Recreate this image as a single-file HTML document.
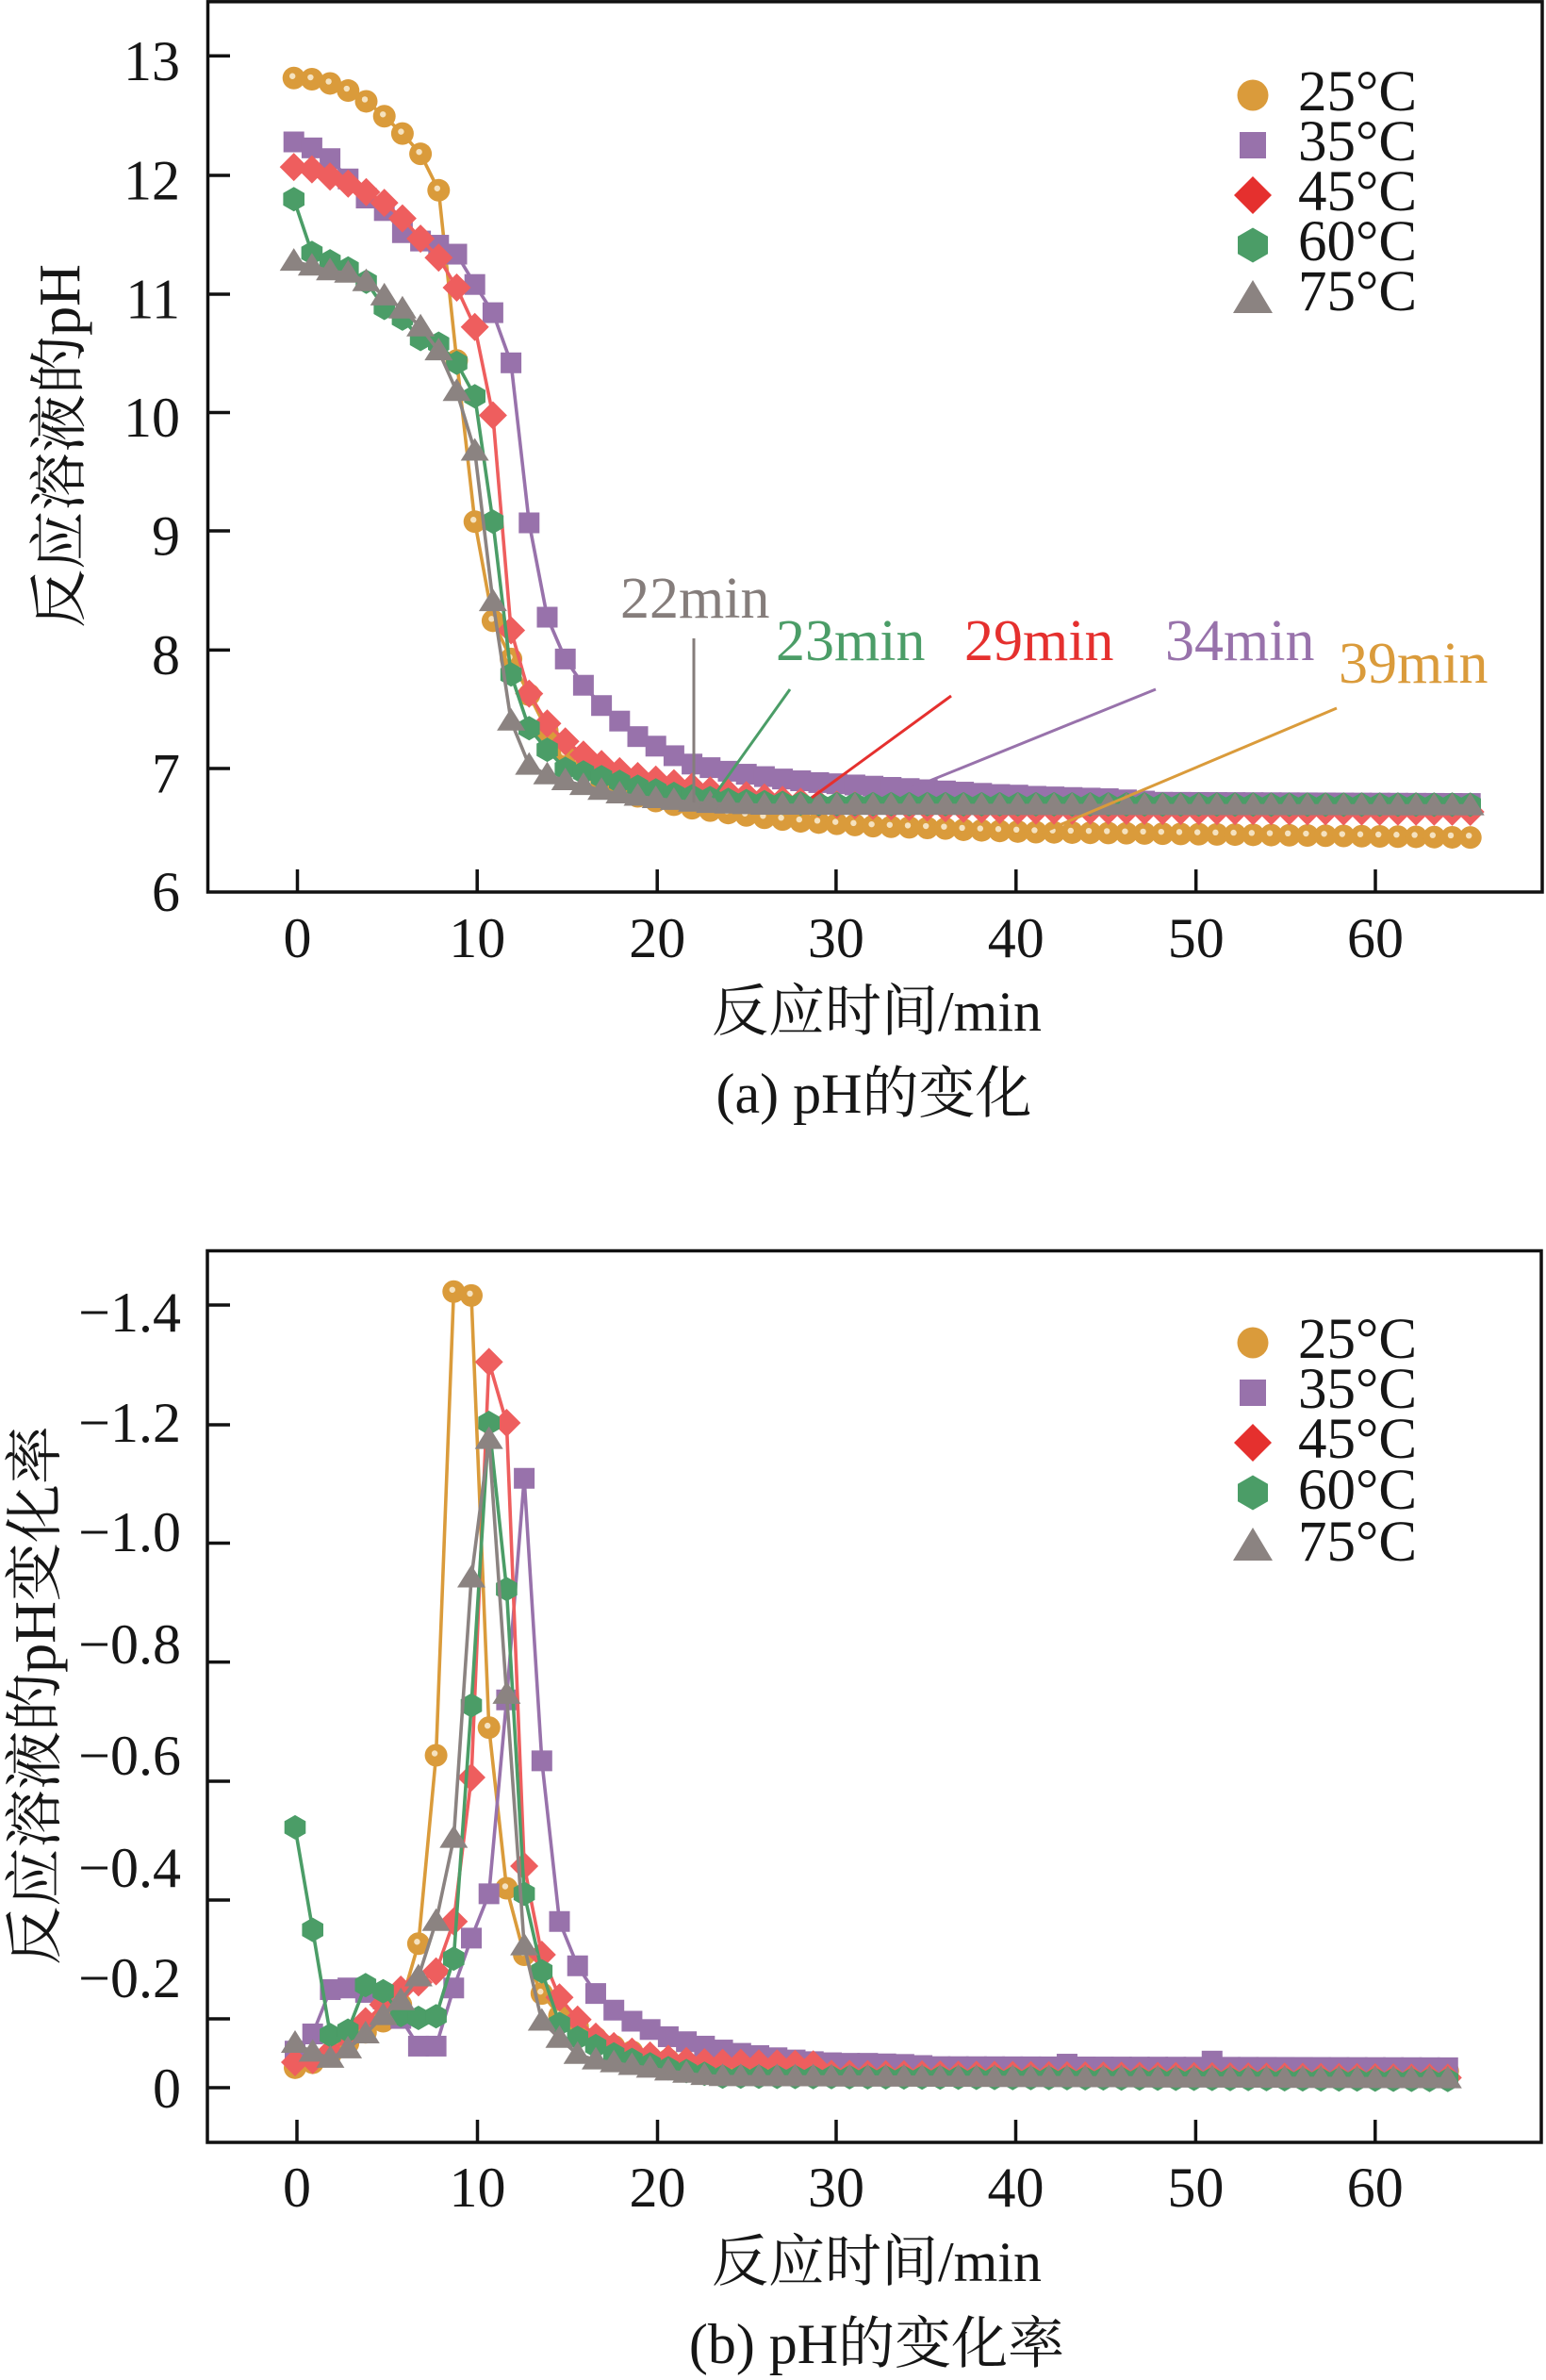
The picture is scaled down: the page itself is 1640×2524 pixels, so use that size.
<!DOCTYPE html>
<html><head><meta charset="utf-8">
<style>
html,body{margin:0;padding:0;background:#fff;}
svg{display:block;}
text{font-family:"Liberation Serif","Noto Serif CJK SC",serif;fill:#161616;}
</style></head>
<body>
<svg id="s" width="1640" height="2524" viewBox="0 0 1640 2524" xmlns="http://www.w3.org/2000/svg">
<rect width="1640" height="2524" fill="#fff"/>
<g id="plotA"></g>
<g id="plotB"></g>

<!-- ===== Chart (a) frame & ticks ===== -->
<g stroke="#111" stroke-width="3.5" fill="none">
<rect x="220.5" y="1.8" width="1415.5" height="944.2"/>
<path d="M220.5 59.3H244M220.5 186H244M220.5 312H244M220.5 437.5H244M220.5 563H244M220.5 689.4H244M220.5 815H244"/>
<path d="M315.5 946V922M506.2 946V922M697.2 946V922M886.9 946V922M1077.8 946V922M1268.7 946V922M1459 946V922"/>
</g>
<g font-size="60" text-anchor="end">
<text x="191" y="85">13</text>
<text x="191" y="211.5">12</text>
<text x="191" y="337.5">11</text>
<text x="191" y="463">10</text>
<text x="191" y="588.5">9</text>
<text x="191" y="715">8</text>
<text x="191" y="840.5">7</text>
<text x="191" y="966">6</text>
</g>
<g font-size="60" text-anchor="middle">
<text x="315.5" y="1015">0</text>
<text x="506.2" y="1015">10</text>
<text x="697.2" y="1015">20</text>
<text x="886.9" y="1015">30</text>
<text x="1077.8" y="1015">40</text>
<text x="1268.7" y="1015">50</text>
<text x="1459" y="1015">60</text>
<text x="930" y="1093">反应时间/min</text>
<text x="927" y="1180">(a) pH的变化</text>
</g>
<text font-size="62" text-anchor="middle" transform="translate(84,473) rotate(-90)">反应溶液的pH</text>

<!-- annotations -->
<g stroke-width="3">
<line x1="736" y1="677" x2="736" y2="851" stroke="#857d7b"/>
<line x1="838" y1="731" x2="756" y2="846" stroke="#4B9D67"/>
<line x1="1009" y1="738" x2="861" y2="846" stroke="#E5302E"/>
<line x1="1226" y1="731" x2="964" y2="837" stroke="#9872AB"/>
<line x1="1418" y1="751" x2="1105" y2="883" stroke="#DA9B3B"/>
</g>
<g font-size="62">
<text x="658" y="655" style="fill:#857d7b">22min</text>
<text x="823" y="700" style="fill:#4B9D67">23min</text>
<text x="1023" y="700" style="fill:#E5302E">29min</text>
<text x="1236" y="700" style="fill:#9872AB">34min</text>
<text x="1420" y="724" style="fill:#DA9B3B">39min</text>
</g>

<!-- legend (a) text -->
<g font-size="61">
<text x="1377" y="117">25°C</text>
<text x="1377" y="170">35°C</text>
<text x="1377" y="223">45°C</text>
<text x="1377" y="276">60°C</text>
<text x="1377" y="329">75°C</text>
</g>
<g id="legA"></g>

<!-- ===== Chart (b) frame & ticks ===== -->
<g stroke="#111" stroke-width="3.5" fill="none">
<rect x="220" y="1326.5" width="1415" height="945.5"/>
<path d="M220 1384H244M220 1511H244M220 1636.5H244M220 1762.6H244M220 1889H244M220 2015H244M220 2141H244M220 2214H244"/>
<path d="M315 2272V2248M506.5 2272V2248M697.5 2272V2248M887 2272V2248M1077.5 2272V2248M1268.4 2272V2248M1458.8 2272V2248"/>
</g>
<g font-size="60" text-anchor="end">
<text x="192" y="1412">−1.4</text>
<text x="192" y="1529">−1.2</text>
<text x="192" y="1645">−1.0</text>
<text x="192" y="1764">−0.8</text>
<text x="192" y="1882">−0.6</text>
<text x="192" y="2001">−0.4</text>
<text x="192" y="2118">−0.2</text>
<text x="192" y="2235">0</text>
</g>
<g font-size="60" text-anchor="middle">
<text x="315" y="2340">0</text>
<text x="506.5" y="2340">10</text>
<text x="697.5" y="2340">20</text>
<text x="887" y="2340">30</text>
<text x="1077.5" y="2340">40</text>
<text x="1268.4" y="2340">50</text>
<text x="1458.8" y="2340">60</text>
<text x="930" y="2419">反应时间/min</text>
<text x="930" y="2506">(b) pH的变化率</text>
</g>
<text font-size="62" text-anchor="middle" transform="translate(58,1798) rotate(-90)">反应溶液的pH变化率</text>

<g font-size="61">
<text x="1377" y="1440">25°C</text>
<text x="1377" y="1493">35°C</text>
<text x="1377" y="1546">45°C</text>
<text x="1377" y="1600">60°C</text>
<text x="1377" y="1655">75°C</text>
</g>
<g id="legB"></g>
</svg>

<script>
(function(){
var NS="http://www.w3.org/2000/svg";
var C={o:"#DA9B3B",p:"#9872AB",r:"#EE5E5E",g:"#4B9D67",k:"#8B8381"};
var LC={o:"#DA9B3B",p:"#9872AB",r:"#E5302E",g:"#4B9D67",k:"#8B8381"};
function el(tag,a,par){var e=document.createElementNS(NS,tag);for(var k in a)e.setAttribute(k,a[k]);par.appendChild(e);return e;}
function poly(pts){return pts.map(function(p){return p[0].toFixed(1)+","+p[1].toFixed(1);}).join(" ");}
function mk(g,type,x,y,c,L){
  if(type==="o"){
    el("circle",{cx:x,cy:y,r:L?16.5:12,fill:c},g);
    if(!L)el("circle",{cx:x-1.5,cy:y-2,r:3.2,fill:"#f5e2bf"},g);
  }else if(type==="s"){
    var h=L?14:11;el("rect",{x:x-h,y:y-h,width:2*h,height:2*h,fill:c},g);
  }else if(type==="d"){
    var d=L?20:15;el("polygon",{points:poly([[x,y-d],[x+d,y],[x,y+d],[x-d,y]]),fill:c},g);
  }else if(type==="h"){
    var r=L?18.5:13,pts=[];for(var k=0;k<6;k++){var a=(-90+60*k)*Math.PI/180;pts.push([x+r*Math.cos(a),y+r*Math.sin(a)]);}
    el("polygon",{points:poly(pts),fill:c},g);
  }else if(type==="t"){
    var P=L?[[x,y-17],[x-21,y+18],[x+21,y+18]]:[[x,y-14],[x-15,y+10],[x+15,y+10]];
    el("polygon",{points:poly(P),fill:c},g);
  }
}
function fill(arr,n,end){var s=arr[arr.length-1],k0=arr.length;for(var i=k0;i<n;i++){arr.push(s+(end-s)*(i-k0+1)/(n-k0));}return arr;}

/* ---------- chart (a) ---------- */
var A={};
A.o=fill([12.815,12.805,12.77,12.71,12.62,12.495,12.35,12.18,11.875,10.45,9.10,8.27,7.95,7.65,7.35,7.15,7.02,6.93,6.86,6.8,6.76,6.73,6.7,6.68,6.66,6.64,6.62,6.605,6.59,6.58,6.57,6.56,6.55,6.545,6.54,6.535,6.53,6.52,6.515,6.51,6.505,6.5],66,6.455);
A.p=fill([12.28,12.23,12.14,11.97,11.81,11.705,11.52,11.45,11.415,11.34,11.086,10.85,10.43,9.09,8.30,7.95,7.73,7.56,7.43,7.30,7.22,7.14,7.07,7.04,7.01,6.985,6.965,6.945,6.93,6.915,6.905,6.895,6.885,6.875,6.865,6.855,6.845,6.835,6.825,6.815,6.81,6.8,6.795,6.79,6.785,6.78,6.77,6.76,6.75],66,6.74);
A.r=fill(fill([12.07,12.05,11.99,11.93,11.86,11.77,11.64,11.47,11.31,11.06,10.73,9.99,8.19,7.66,7.41,7.26,7.15,7.07,7.01,6.97,6.94,6.91,6.88,6.85,6.83,6.81,6.79,6.77,6.755,6.74,6.73],41,6.68),66,6.67);
A.g=fill([11.80,11.35,11.28,11.22,11.11,10.89,10.80,10.63,10.59,10.43,10.15,9.10,7.82,7.37,7.19,7.03,7.0,6.96,6.92,6.88,6.85,6.82,6.8,6.785,6.77,6.76,6.75,6.745,6.74,6.735],66,6.73);
A.k=fill([11.28,11.24,11.2,11.18,11.11,10.99,10.88,10.73,10.53,10.19,9.69,8.43,7.43,7.06,6.98,6.93,6.89,6.85,6.82,6.8,6.78,6.765,6.75,6.74,6.735,6.73,6.725],66,6.72);
function xa(i){return 311.7+19.2*i;}
function ya(v){return 945.8-(v-6)*126.64;}

/* ---------- chart (b) ---------- */
var B={};
B.o=fill([0.036,0.045,0.06,0.08,0.1,0.12,0.15,0.26,0.6,1.437,1.43,0.65,0.36,0.24,0.17,0.13,0.11,0.09,0.075,0.065,0.055,0.05,0.045,0.042,0.04,0.038],65,0.03);
B.p=fill([0.066,0.097,0.177,0.18,0.172,0.16,0.125,0.075,0.075,0.18,0.27,0.35,0.7,1.10,0.59,0.30,0.22,0.17,0.14,0.12,0.105,0.092,0.083,0.075,0.068,0.062,0.058,0.054,0.05,0.047,0.045,0.044,0.044,0.043,0.042,0.04,0.038],65,0.036);
B.p[43]+=0.005;B.p[51]=0.048;
B.r=fill([0.046,0.05,0.065,0.09,0.12,0.15,0.177,0.19,0.21,0.30,0.56,1.31,1.20,0.40,0.24,0.163,0.123,0.092,0.075,0.065,0.058,0.052,0.048,0.046,0.045,0.045,0.044,0.044,0.043,0.042,0.025],65,0.018);
B.g=fill([0.47,0.285,0.095,0.103,0.185,0.174,0.131,0.126,0.129,0.233,0.69,1.20,0.9,0.35,0.21,0.115,0.09,0.075,0.06,0.05,0.042,0.035,0.03,0.025,0.02],65,0.014);
B.k=fill([0.08,0.064,0.053,0.07,0.097,0.13,0.157,0.2,0.30,0.45,0.92,1.17,0.71,0.256,0.12,0.089,0.06,0.05,0.045,0.04,0.035,0.03,0.026,0.022,0.02],65,0.016);
function xb(i){return i<=15?313+18.7*i:593.5+19.23*(i-15);}
function yb(v){return 2214-v*587.5;}

var order=["o","p","r","g","k"];
var shape={o:"o",p:"s",r:"d",g:"h",k:"t"};
function draw(gid,D,fx,fy){
  var G=document.getElementById(gid);
  order.forEach(function(s){
    var g=el("g",{},G);
    var pts=D[s].map(function(v,i){return [fx(i),fy(v)];});
    el("polyline",{points:poly(pts),fill:"none",stroke:C[s],"stroke-width":3.6,"stroke-linejoin":"round"},g);
    pts.forEach(function(p){mk(g,shape[s],p[0],p[1],C[s],false);});
  });
}
draw("plotA",A,xa,ya);
draw("plotB",B,xb,yb);

function legend(gid,y0){
  var G=document.getElementById(gid);
  order.forEach(function(s,i){mk(G,shape[s],1329,y0+53*i+(s==="k"?1:0),LC[s],true);});
}
legend("legA",101);
legend("legB",1424);
})();
</script>
</body></html>
